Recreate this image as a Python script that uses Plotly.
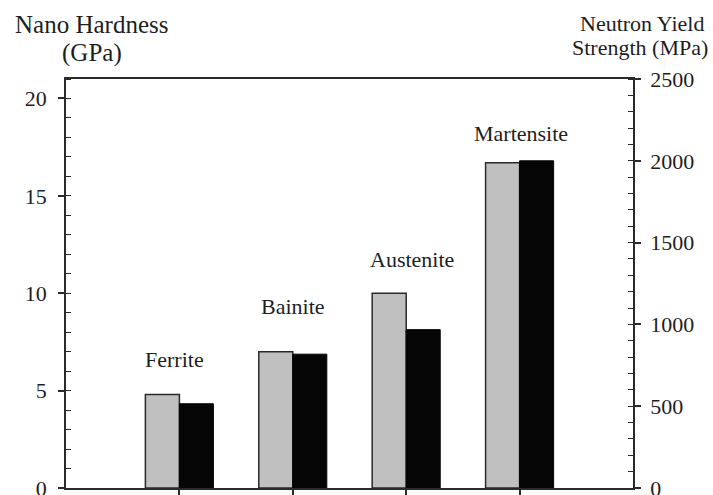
import plotly.graph_objects as go

# Phase data
phases = ["Ferrite", "Bainite", "Austenite", "Martensite"]
nano_hardness_gpa = [4.8, 7.0, 10.0, 16.7]
yield_strength_mpa = [515, 818, 968, 2000]

# Left-axis height (GPa units) and horizontal nudge (px) of each phase label
label_heights = [6.6, 9.3, 11.75, 18.2]
label_dx = [-5, 0, 6, 1]

left_ticks = [0, 5, 10, 15, 20]
right_ticks = [0, 500, 1000, 1500, 2000, 2500]

FONT = "Liberation Serif"
INK = "#1e1e1e"
LINE = "#2a2a2a"

W, H = 713, 495
ML, MR, MT, MB = 66, 80, 79, 7
PW, PH = W - ML - MR, H - MT - MB

fig = go.Figure()

fig.add_trace(go.Bar(
    x=phases, y=nano_hardness_gpa, yaxis="y",
    width=0.3, offset=-0.3,
    marker=dict(color="#c0c0c0", line=dict(color=LINE, width=1.5)),
    showlegend=False,
))
fig.add_trace(go.Bar(
    x=phases, y=yield_strength_mpa, yaxis="y2",
    width=0.3, offset=0.0,
    marker=dict(color="#050505", line=dict(color="#050505", width=1)),
    showlegend=False,
))

tick_font = dict(family=FONT, size=22, color=INK)

fig.update_layout(
    width=W, height=H,
    margin=dict(l=ML, r=MR, t=MT, b=MB),
    paper_bgcolor="white", plot_bgcolor="white",
    barmode="overlay",
    xaxis=dict(
        type="category", range=[-1, 4], automargin=False,
        showticklabels=False, ticks="outside", ticklen=8,
        tickwidth=1.5, tickcolor=LINE,
        showline=True, linecolor=LINE, linewidth=1.8, mirror=True,
        showgrid=False, zeroline=False,
    ),
    yaxis=dict(
        range=[0, 21], tickvals=left_ticks, ticktext=[str(v) for v in left_ticks],
        automargin=False, ticklabeloverflow="allow",
        ticks="outside", ticklen=6, tickwidth=1.5, tickcolor=LINE,
        minor=dict(dtick=1, ticks="inside", ticklen=5, tickwidth=1.2, tickcolor=LINE),
        tickfont=tick_font, ticklabelstandoff=7,
        showline=True, linecolor=LINE, linewidth=1.8,
        showgrid=False, zeroline=False,
    ),
    yaxis2=dict(
        range=[0, 2500], tickvals=right_ticks, ticktext=[str(v) for v in right_ticks],
        overlaying="y", side="right", anchor="x",
        automargin=False, ticklabeloverflow="allow",
        ticks="outside", ticklen=6, tickwidth=1.5, tickcolor=LINE,
        minor=dict(dtick=100, ticks="inside", ticklen=5, tickwidth=1.2, tickcolor=LINE),
        tickfont=tick_font, ticklabelstandoff=5,
        showline=True, linecolor=LINE, linewidth=1.8,
        showgrid=False, zeroline=False,
    ),
    # inner halves of the major ticks, so they cross the axis lines
    yaxis3=dict(
        range=[0, 21], tickvals=left_ticks, overlaying="y", side="left", anchor="x",
        automargin=False,
        ticks="inside", ticklen=6, tickwidth=1.5, tickcolor=LINE,
        showticklabels=False, showline=False, showgrid=False, zeroline=False,
    ),
    yaxis4=dict(
        range=[0, 2500], tickvals=right_ticks, overlaying="y", side="right", anchor="x",
        automargin=False,
        ticks="inside", ticklen=6, tickwidth=1.5, tickcolor=LINE,
        showticklabels=False, showline=False, showgrid=False, zeroline=False,
    ),
)

# phase labels above each pair of bars
for name, h, dx in zip(phases, label_heights, label_dx):
    fig.add_annotation(
        x=name, y=h, xref="x", yref="y", text=name, showarrow=False,
        xshift=dx, font=dict(family=FONT, size=22, color=INK),
    )


def page_text(px, py, text, size, anchor="center"):
    """Place a text at a page position given in pixels from the top-left corner."""
    fig.add_annotation(
        x=(px - ML) / PW, y=(H - py - MB) / PH, xref="paper", yref="paper",
        text=text, showarrow=False, xanchor=anchor, yanchor="middle",
        font=dict(family=FONT, size=size, color=INK),
    )


# axis titles
page_text(91, 24, "Nano Hardness", 25)
page_text(92, 53, "(GPa)", 25)
page_text(706, 23, "Neutron Yield", 22, anchor="right")
page_text(710, 48, "Strength (MPa)", 22, anchor="right")

fig.write_html("out.html")
